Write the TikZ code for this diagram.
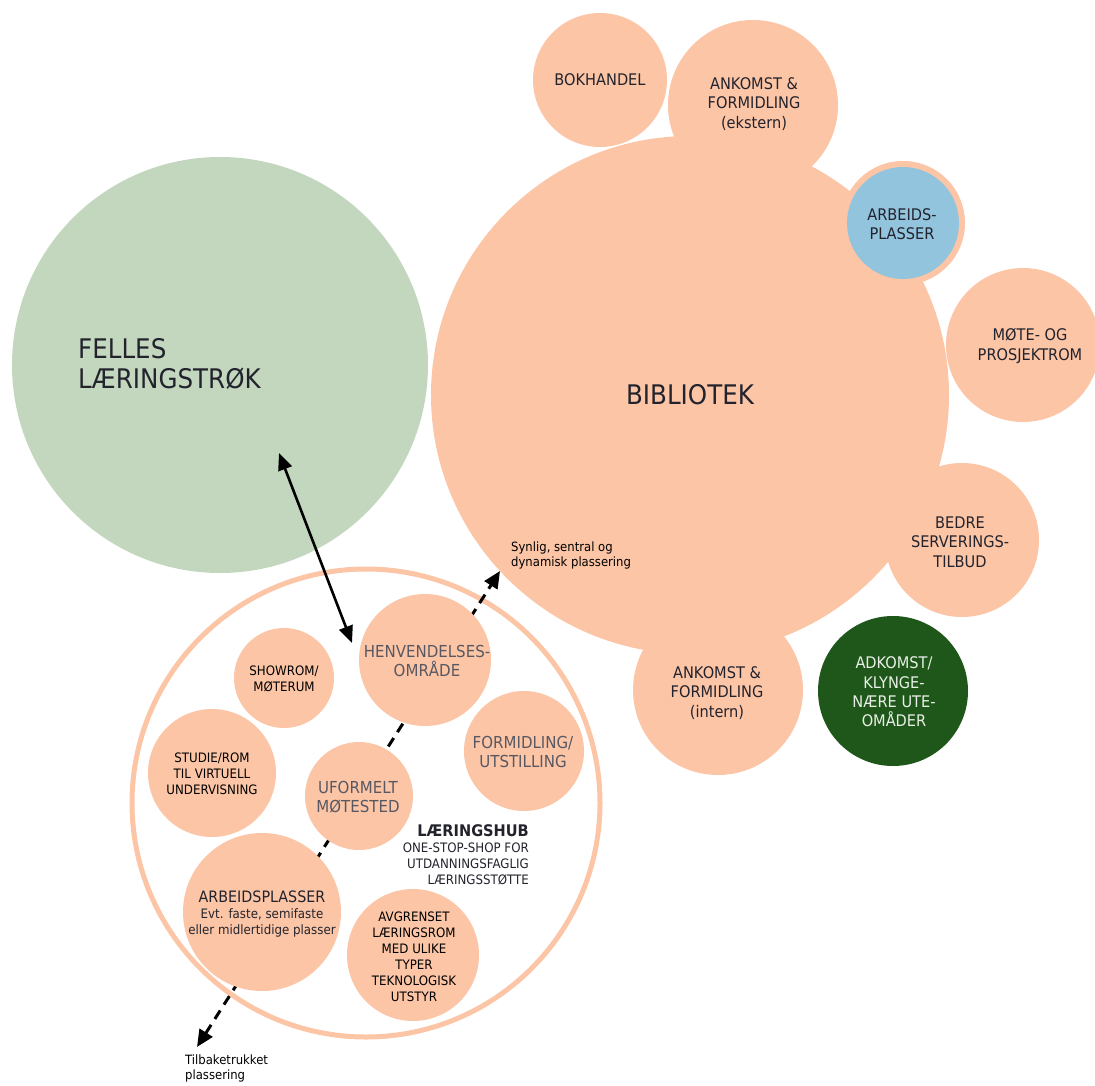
\documentclass[tikz,border=0pt]{standalone}
\usepackage{fontspec}
\setmainfont{DejaVu Sans}[FakeStretch=0.91]
\usetikzlibrary{arrows.meta}
\definecolor{peach}{RGB}{252,197,166}
\definecolor{sage}{RGB}{195,215,190}
\definecolor{skyb}{RGB}{146,196,221}
\definecolor{forest}{RGB}{31,86,26}
\definecolor{txtdark}{RGB}{35,35,45}
\definecolor{txtgray}{RGB}{88,88,98}
\definecolor{txtlight}{RGB}{232,240,230}
\begin{document}
\begin{tikzpicture}[x=1pt,y=-1pt,
  bub/.style={circle,inner sep=0pt,fill=peach},
  lbl/.style={align=center,text=txtdark,inner sep=0pt},
  big/.style={font=\fontsize{27}{30}\selectfont},
  mid/.style={font=\fontsize{16}{19.3}\selectfont},
  hubmid/.style={font=\fontsize{16.5}{19}\selectfont},
  small/.style={font=\fontsize{13}{15.8}\selectfont},
  note/.style={font=\fontsize{12.8}{15}\selectfont,text=black,inner sep=0pt},
  dashline/.style={line width=3pt,dash pattern=on 10pt off 7pt,
     arrows={Triangle[length=17pt,width=15pt]-Triangle[length=17pt,width=15pt]}},
  solidline/.style={line width=2.6pt,
     arrows={Triangle[length=17pt,width=14pt]-Triangle[length=17pt,width=14pt]}}]
\path[use as bounding box] (0,0) rectangle (1095,1086);

% big circles
\node[circle,inner sep=0pt,fill=sage,minimum size=416pt] (felles) at (220,365) {};
\node[bub,minimum size=518pt] (bib) at (690,395) {};
\node[bub,minimum size=134pt] (bok) at (600,80) {};
\node[bub,minimum size=170pt] (ankE) at (753,105) {};
\node[bub,minimum size=124pt] (arbRing) at (903,223) {};
\node[circle,inner sep=0pt,fill=skyb,minimum size=112pt] (arbB) at (903,223) {};
\node[bub,minimum size=154pt] (mote) at (1023,345) {};
\node[bub,minimum size=154pt] (bedre) at (962,540) {};
\node[circle,inner sep=0pt,fill=forest,minimum size=150pt] (adk) at (893,691) {};
\node[bub,minimum size=170pt] (ankI) at (718,690) {};

% labels big circles
\node[lbl,big,align=left,anchor=north west] (fellesT) at (78,338) {FELLES\\LÆRINGSTRØK};
\node[lbl,big] (bibT) at (690,395) {BIBLIOTEK};
\node[lbl,mid] (bokT) at (600,80) {BOKHANDEL};
\node[lbl,mid] (ankET) at (754,104) {ANKOMST \&\\FORMIDLING\\(ekstern)};
\node[lbl,mid] (arbT) at (902,224) {ARBEIDS-\\PLASSER};
\node[lbl,mid] (moteT) at (1030,346) {MØTE- OG\\PROSJEKTROM};
\node[lbl,mid] (bedreT) at (960,542) {BEDRE\\SERVERINGS-\\TILBUD};
\node[lbl,mid,text=txtlight] (adkT) at (894,692) {ADKOMST/\\KLYNGE-\\NÆRE UTE-\\OMÅDER};
\node[lbl,mid] (ankIT) at (717,693) {ANKOMST \&\\FORMIDLING\\(intern)};
\node[note,align=left,anchor=north west] (synT) at (511,542) {Synlig, sentral og\\dynamisk plassering};
\node[note,align=left,anchor=north west] (tilbT) at (185,1055) {Tilbaketrukket\\plassering};

% hub ring
\node[circle,draw=peach,line width=5pt,fill=white,inner sep=0pt,minimum size=468pt] (hub) at (366,803) {};

% dashed axis
\coordinate (synlig) at (500,571);
\coordinate (tilbake) at (197,1047);
\draw[dashline] (tilbake) -- (synlig);

% inner circles
\node[bub,minimum size=100pt] (show) at (284,678) {};
\node[bub,minimum size=132pt] (henv) at (425,660) {};
\node[bub,minimum size=128pt] (stud) at (212,773) {};
\node[bub,minimum size=120pt] (form) at (524,751) {};
\node[bub,minimum size=108pt] (ufo) at (359,796) {};
\node[bub,minimum size=158pt] (arbp) at (262,912) {};
\node[bub,minimum size=132pt] (avg) at (413,955) {};

\node[lbl,small,text=black] (showT) at (284,679) {SHOWROM/\\MØTERUM};
\node[lbl,hubmid,text=txtgray] (henvT) at (427,661) {HENVENDELSES-\\OMRÅDE};
\node[lbl,small,text=black] (studT) at (212,774) {STUDIE/ROM\\TIL VIRTUELL\\UNDERVISNING};
\node[lbl,hubmid,text=txtgray] (formT) at (523,752) {FORMIDLING/\\UTSTILLING};
\node[lbl,hubmid,text=txtgray] (ufoT) at (358,797) {UFORMELT\\MØTESTED};
\node[lbl,text=txtdark,font=\fontsize{13}{15.5}\selectfont] (arbpT) at (262,914) {{\fontsize{15.7}{18}\selectfont ARBEIDSPLASSER}\\[1pt]Evt. faste, semifaste\\eller midlertidige plasser};
\node[lbl,text=black,font=\fontsize{13}{16}\selectfont] (avgT) at (414,957) {AVGRENSET\\LÆRINGSROM\\MED ULIKE\\TYPER\\TEKNOLOGISK\\UTSTYR};
\node[lbl,align=right,anchor=north east,text=txtdark,font=\fontsize{13}{16}\selectfont] (hubT) at (529,824) {{\fontsize{16}{18}\selectfont\bfseries LÆRINGSHUB}\\ONE-STOP-SHOP FOR\\UTDANNINGSFAGLIG\\LÆRINGSSTØTTE};

% solid double arrow
\coordinate (fellesPt) at (279,453);
\coordinate (hubPt) at (352,643);
\draw[solidline] (fellesPt) -- (hubPt);
\end{tikzpicture}
\end{document}
